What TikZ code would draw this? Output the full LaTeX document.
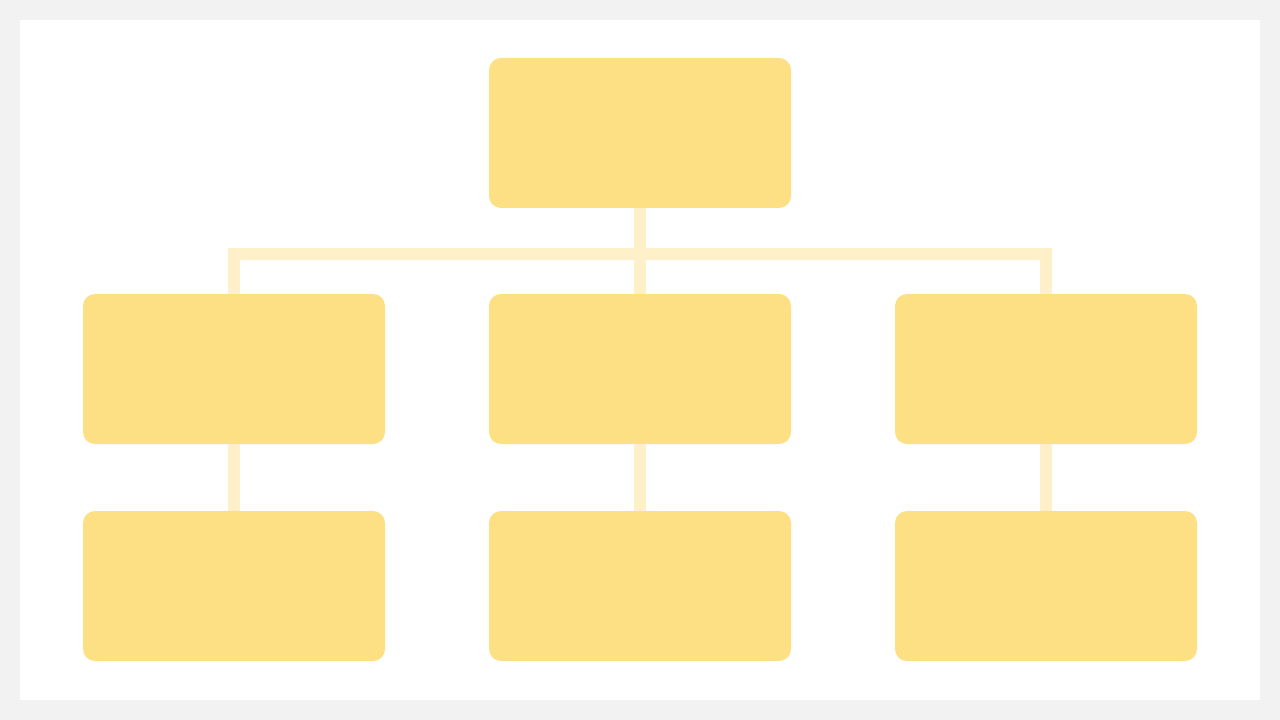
\documentclass[tikz,border=0pt]{standalone}
\begin{document}
\begin{tikzpicture}[x=0.75pt,y=-0.75pt,
  box/.style={fill=boxfill,rounded corners=9pt,minimum width=226.5pt,minimum height=112.5pt,inner sep=0pt,draw=none},
  link/.style={draw=linkcol,line width=9pt}]
\definecolor{boxfill}{HTML}{FDE083}
\definecolor{linkcol}{HTML}{FEF0C8}
\definecolor{pagebg}{HTML}{F2F2F2}
\fill[pagebg] (0,0) rectangle (1280,720);
\useasboundingbox (0,0) rectangle (1280,720);
\fill[white] (20,20) rectangle (1260,700);
% connectors first
\coordinate (j) at (640,254);
\coordinate (jl) at (234,254);
\coordinate (jr) at (1046,254);
\node[box] (top) at (640,133) {};
\node[box] (a) at (234,369) {};
\node[box] (b) at (640,369) {};
\node[box] (c) at (1046,369) {};
\node[box] (d) at (234,586) {};
\node[box] (e) at (640,586) {};
\node[box] (f) at (1046,586) {};
\begin{scope}[on background layer/.style={}]
\end{scope}
\draw[link] (top.south) -- (b.north);
\draw[link] (jl) -- (jr);
\draw[link] ([yshift=4.5pt]jl) -- (a.north);
\draw[link] ([yshift=4.5pt]jr) -- (c.north);
\draw[link] (a.south) -- (d.north);
\draw[link] (b.south) -- (e.north);
\draw[link] (c.south) -- (f.north);
\end{tikzpicture}
\end{document}
